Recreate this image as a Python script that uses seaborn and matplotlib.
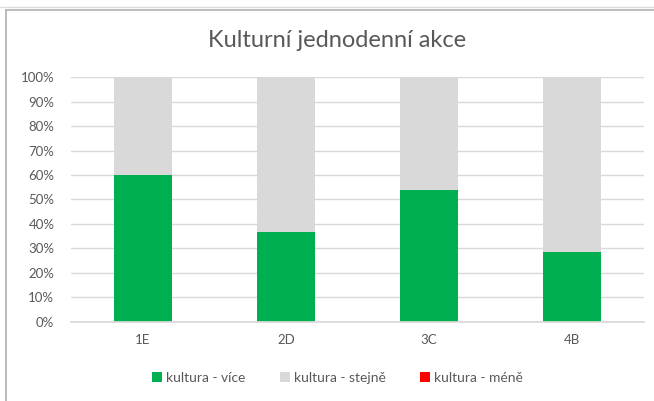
import numpy as np
import pandas as pd
import seaborn as sns
import matplotlib.pyplot as plt
from matplotlib.patches import Patch
from matplotlib.lines import Line2D
from matplotlib.ticker import PercentFormatter

classes = ["1E", "2D", "3C", "4B"]
vice = [60.0, 36.6, 53.8, 28.6]
stejne = [40.0, 63.4, 46.2, 71.4]
mene = [0.0, 0.0, 0.0, 0.0]

series_names = ["kultura - více", "kultura - stejně", "kultura - méně"]
colors = ["#00b050", "#d9d9d9", "#ff0000"]

sns.set_theme(style="white")
plt.rcParams["font.family"] = ["Lato", "DejaVu Sans"]
text_col = "#595959"

df = pd.DataFrame({"trida": classes, "vice": vice, "stejne": stejne, "mene": mene})
df["c1"] = df["vice"]
df["c2"] = df["c1"] + df["stejne"]
df["c3"] = df["c2"] + df["mene"]

fig = plt.figure(figsize=(6.54, 4.01), dpi=100)
ax = fig.add_axes([0.1086, 0.1978, 0.8761, 0.6094])

# stacked bars: draw cumulative totals from the top down
for col, c in zip(["c3", "c2", "c1"], colors[::-1]):
    sns.barplot(data=df, x="trida", y=col, color=c, width=0.405,
                saturation=1, ax=ax, linewidth=0)

ax.set_ylim(0, 100)
ax.set_yticks(np.arange(0, 101, 10))
ax.yaxis.set_major_formatter(PercentFormatter(decimals=0))
ax.grid(axis="y", color="#d9d9d9", linewidth=1)
ax.set_axisbelow(True)
for s in ["top", "right", "left"]:
    ax.spines[s].set_visible(False)
ax.spines["bottom"].set_color("#d9d9d9")
ax.tick_params(axis="both", length=0, labelsize=9.5, labelcolor=text_col)
ax.tick_params(axis="x", pad=9)
ax.tick_params(axis="y", pad=12)
ax.set_xlabel("")
ax.set_ylabel("")

fig.text(0.516, 0.899, "Kulturní jednodenní akce", ha="center", va="center",
         fontsize=17, color=text_col)

handles = [Patch(facecolor=c, edgecolor="none") for c in colors]
fig.legend(handles, series_names, loc="center", bbox_to_anchor=(0.516, 0.057),
           ncol=3, frameon=False, fontsize=10, labelcolor=text_col,
           handlelength=0.7, handleheight=0.7, handletextpad=0.3,
           columnspacing=2.5)

# chart frame edges
fig.add_artist(Line2D([6 / 654, 6 / 654], [0, 1 - 10 / 401], color="#b0b0b0",
                      linewidth=1.2, transform=fig.transFigure))
fig.add_artist(Line2D([6 / 654, 1], [1 - 10 / 401, 1 - 10 / 401], color="#b0b0b0",
                      linewidth=1.2, transform=fig.transFigure))
fig.add_artist(Line2D([0, 1], [1 - 7 / 401, 1 - 7 / 401], color="#dcdcdc",
                      linewidth=1.0, transform=fig.transFigure))

fig.savefig("out.png", dpi=100)
